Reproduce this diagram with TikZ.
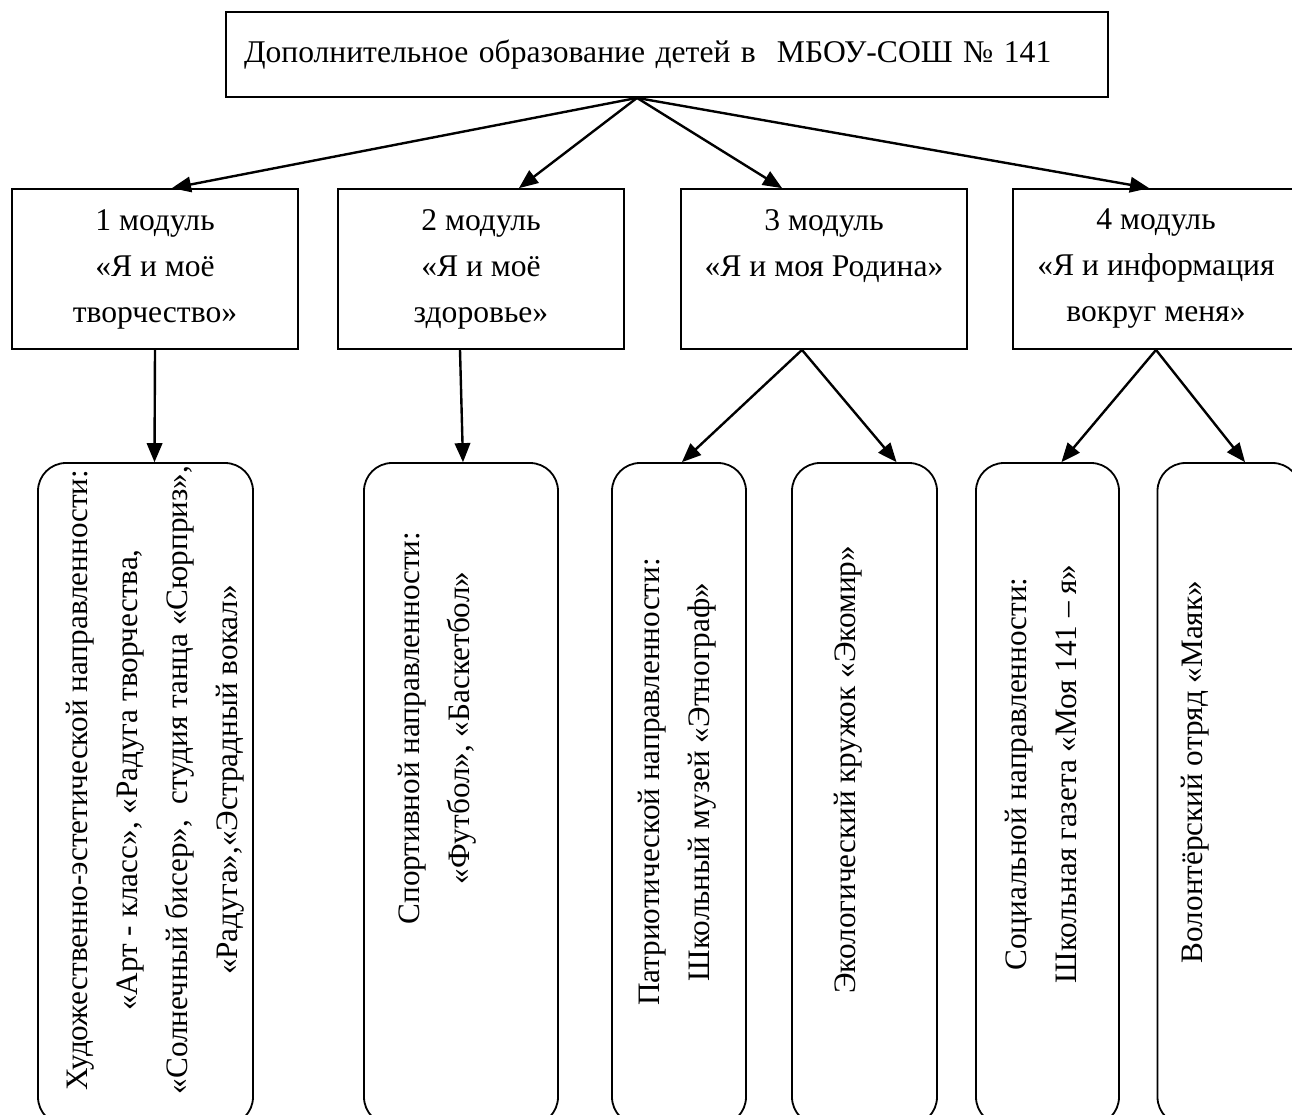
\documentclass[tikz,border=0pt]{standalone}
\usepackage{fontspec}
\setmainfont{Liberation Serif}
\usetikzlibrary{arrows}
\usetikzlibrary{positioning}

\begin{document}
\begin{tikzpicture}[x=0.5pt, y=-0.5pt, line width=0.9pt, modul/.style={rectangle, draw, minimum width=143pt, minimum height=80pt, align=center, inner sep=0pt}]
    \tikzset{kruzhok/.style={rectangle, rounded corners=14pt, draw, minimum height=331pt, inner sep=0pt}}
    \tikzset{napr/.style={rotate=90, align=center, inner sep=0pt, font=\fontsize{15.6}{25}\selectfont}}
    \tikzset{strelka/.style={>=triangle 45, line width=1.2pt, ->}}
    \fontsize{15.8}{23}\selectfont
    \useasboundingbox (0,0) rectangle (1292,1115);
    % vverhu
    \node[rectangle, draw, minimum width=441pt, minimum height=42.5pt, text width=423pt, inner xsep=9pt, inner ysep=0pt, align=left] (top) at (667,54.5) {Дополнительное образование детей в\ \ МБОУ-СОШ № 141};
    % moduli
    \node[modul] (m1) at (155,269) {1 модуль\\«Я и моё\\творчество»};
    \node[modul] (m2) at (481,269) {2 модуль\\«Я и моё\\здоровье»};
    \node[modul] (m3) at (824,269) {3 модуль\\«Я и моя Родина»\\\phantom{здоровье»}};
    \node[modul] (m4) at (1156,269) {4 модуль\\«Я и информация\\вокруг меня»};
    % kruzhki
    \node[kruzhok, minimum width=107.5pt] (d1) at (145.5,794) {};
    \node[kruzhok, minimum width=97pt] (d2) at (461,794) {};
    \node[kruzhok, minimum width=67pt] (d3) at (679,794) {};
    \node[kruzhok, minimum width=72.5pt] (d4) at (864.5,794) {};
    \node[kruzhok, minimum width=71.5pt] (d5) at (1047.5,794) {};
    \node[kruzhok, minimum width=71.5pt] (d6) at (1229,794) {};
    \node[napr] (t1) at (155,780) {Художественно-эстетической направленности:\\«Арт - класс», «Радуга творчества,\\«Солнечный бисер»,\ \ студия танца «Сюрприз»,\\«Радуга»,«Эстрадный вокал»};
    \node[napr] (t2) at (437,728) {Спортивной направленности:\\«Футбол», «Баскетбол»};
    \node[napr] (t3) at (677,782) {Патриотической направленности:\\Школьный музей «Этнограф»};
    \node[napr] (t4) at (848,770) {Экологический кружок «Экомир»};
    \node[napr] (t5) at (1041,774) {Социальной направленности:\\Школьная газета «Моя 141 – я»};
    \node[napr] (t6) at (1195,772) {Волонтёрский отряд «Маяк»};

    \draw[strelka] ([xshift=-15pt]top.south) -- ([xshift=8.5pt]m1.north);
    \draw[strelka] ([xshift=-15pt]top.south) -- ([xshift=19pt]m2.north);
    \draw[strelka] ([xshift=-15pt]top.south) -- ([xshift=-21pt]m3.north);
    \draw[strelka] ([xshift=-15pt]top.south) -- ([xshift=-3.5pt]m4.north);
    \draw[strelka] (m1.south) -- ([xshift=4.5pt]d1.north);
    \draw[strelka] ([xshift=-10.5pt]m2.south) -- ([xshift=1pt]d2.north);
    \draw[strelka] ([xshift=-11pt]m3.south) -- ([xshift=1.5pt]d3.north);
    \draw[strelka] ([xshift=-11pt]m3.south) -- ([xshift=16pt]d4.north);
    \draw[strelka] (m4.south) -- ([xshift=7pt]d5.north);
    \draw[strelka] (m4.south) -- ([xshift=8pt]d6.north);
\end{tikzpicture}
\end{document}
